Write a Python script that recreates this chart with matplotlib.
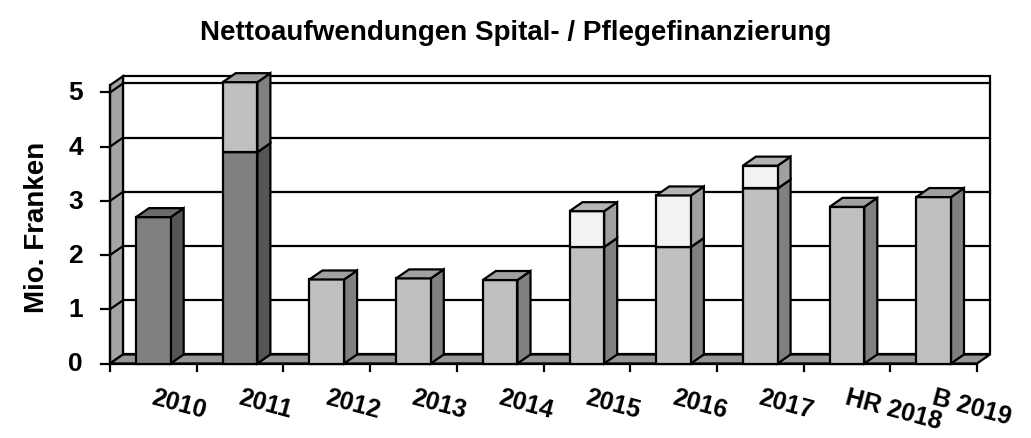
import matplotlib
matplotlib.use("Agg")
import matplotlib.pyplot as plt
from matplotlib.patches import Polygon
from matplotlib.transforms import offset_copy
import numpy as np

plt.rcParams['font.family'] = ['Liberation Sans', 'DejaVu Sans']
plt.rcParams['font.weight'] = 'bold'

years = ["2010", "2011", "2012", "2013", "2014", "2015", "2016", "2017", "HR 2018", "B 2019"]
# three stacked series (Mio. Franken)
dark = [2.70, 3.90, 0, 0, 0, 0, 0, 0, 0, 0]
mid = [0, 1.29, 1.55, 1.57, 1.54, 2.15, 2.15, 3.23, 2.89, 3.07]
pale = [0, 0, 0, 0, 0, 0.66, 0.95, 0.42, 0, 0]

# face colours: front, side, top
colours = [
    ("#808080", "#555555", "#6a6a6a"),
    ("#c0c0c0", "#808080", "#a0a0a0"),
    ("#f2f2f2", "#a0a0a0", "#b4b4b4"),
]

W, H = 1031, 439
fig = plt.figure(figsize=(W / 100, H / 100), dpi=100)
ax = fig.add_axes([110 / W, (H - 364.5) / H, 867 / W, 287.3 / H])
ax.set_xlim(0, 10)
ax.set_ylim(0, 5.3)
ax.axis("off")

dx, dy = 13 / 86.7, 9 / 54.2   # depth offset in data units
top = 5.3
lw = 1.6

def poly(pts, fc, z):
    ax.add_patch(Polygon(pts, closed=True, facecolor=fc, edgecolor="black",
                         linewidth=lw, zorder=z, clip_on=False, joinstyle="miter"))

# walls and floor
poly([(dx, dy), (10 + dx, dy), (10 + dx, top), (dx, top)], "white", 1)
poly([(0, 0), (dx, dy), (dx, top), (0, top - dy)], "#a4a4a4", 1)
poly([(0, 0), (10, 0), (10 + dx, dy), (dx, dy)], "#969696", 1)

for v in range(1, 6):
    ax.plot([dx, 10 + dx], [v + dy, v + dy], color="black", lw=lw, zorder=2, clip_on=False)
    ax.plot([0, dx], [v, v + dy], color="black", lw=lw, zorder=2, clip_on=False)

# axes lines and ticks
ax.plot([0, 0], [0, top - dy], color="black", lw=lw, zorder=3, clip_on=False)
ax.plot([0, 10], [0, 0], color="black", lw=lw, zorder=3, clip_on=False)
tk = 9 / 86.7
ytr = offset_copy(ax.transData, fig=fig, x=-27, y=0, units="dots")
for v in range(0, 6):
    ax.plot([-tk, 0], [v, v], color="black", lw=lw, clip_on=False)
    ax.text(0, v, str(v), transform=ytr, ha="right", va="center", fontsize=19, fontweight="bold")
for i in range(11):
    ax.plot([i, i], [0, -7 / 54.2], color="black", lw=lw, clip_on=False)

# bars
bw = 0.2
z = 5
for i in range(len(years)):
    c = i + 0.5
    base = 0
    for vals, (fc, sc, tc) in zip([dark, mid, pale], colours):
        v = vals[i]
        if v <= 0:
            continue
        t = base + v
        poly([(c + bw, base), (c + bw + dx, base + dy), (c + bw + dx, t + dy), (c + bw, t)], sc, z)
        poly([(c - bw, base), (c + bw, base), (c + bw, t), (c - bw, t)], fc, z + 1)
        poly([(c - bw, t), (c - bw + dx, t + dy), (c + bw + dx, t + dy), (c + bw, t)], tc, z + 1)
        z += 2
        base = t

lab_tr = offset_copy(ax.transData, fig=fig, x=2, y=-21, units="dots")
for i, name in enumerate(years):
    ax.text(i + 0.5, 0, name, transform=lab_tr, rotation=-15, rotation_mode="anchor",
            ha="left", va="top", fontsize=18, fontweight="bold")

fig.text(516 / W, 1 - 33 / H, "Nettoaufwendungen Spital- / Pflegefinanzierung",
         ha="center", va="center", fontsize=20, fontweight="bold")
fig.text(37 / W, 1 - 227 / H, "Mio. Franken", rotation=90, ha="center", va="center",
         fontsize=20, fontweight="bold")

fig.savefig("out.png", dpi=100)
